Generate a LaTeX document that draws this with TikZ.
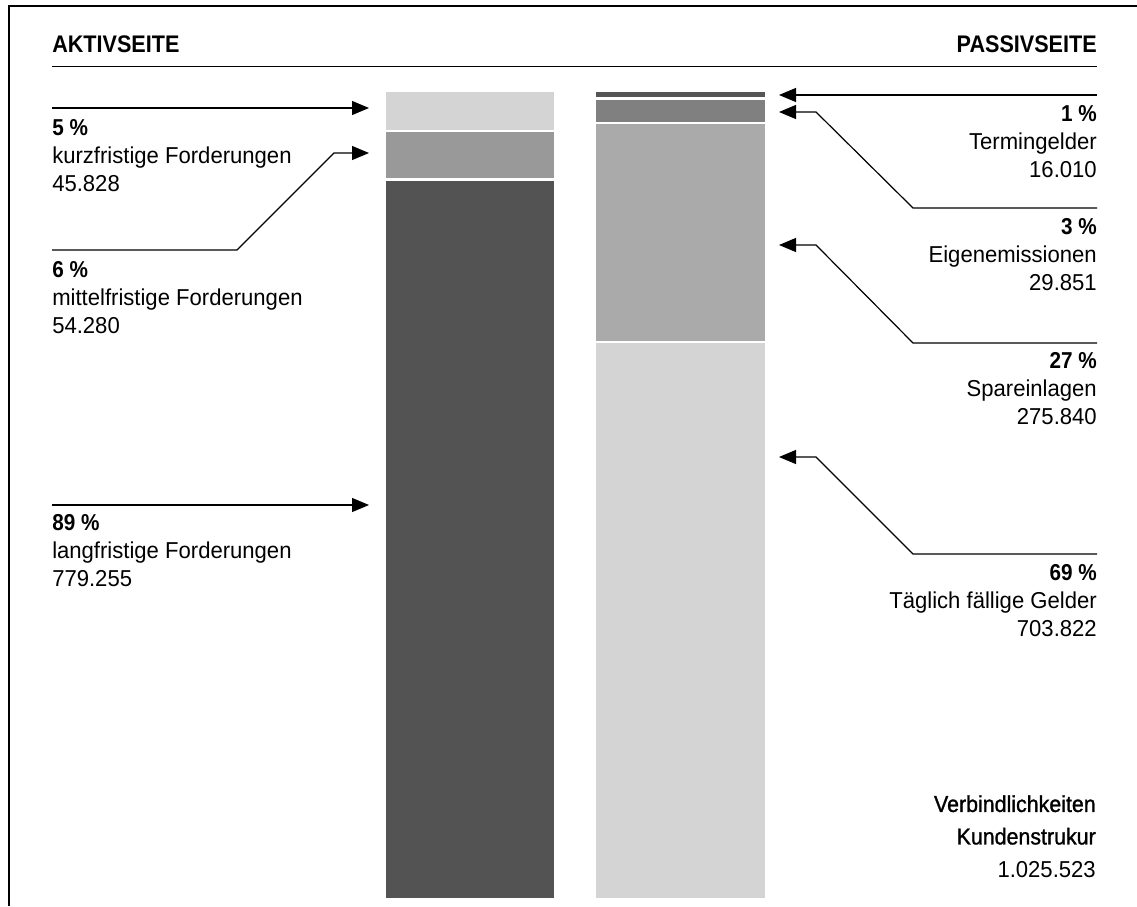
\documentclass[tikz,border=0pt]{standalone}
\usepackage{fontspec}
\setmainfont{Liberation Sans}[FakeStretch=0.96, BoldFeatures={FakeStretch=0.9}]
\newfontfamily\mittelfont{Liberation Sans}[FakeStretch=0.93, FakeBold=1.2]
\usetikzlibrary{arrows.meta}

\definecolor{hell}{HTML}{D4D4D4}
\definecolor{mittel}{HTML}{999999}
\definecolor{dunkel}{HTML}{535353}
\definecolor{grauA}{HTML}{555555}
\definecolor{grauB}{HTML}{808080}
\definecolor{grauC}{HTML}{AAAAAA}

\begin{document}
\begin{tikzpicture}[x=0.75pt, y=-0.75pt,
  titel/.style={font=\fontsize{18pt}{21pt}\selectfont\bfseries, inner sep=0pt},
  wert/.style={font=\fontsize{17.25pt}{21pt}\selectfont, inner sep=0pt},
  summe/.style={font=\fontsize{17.25pt}{24.4pt}\selectfont, inner sep=0pt, align=right},
  pfeil/.style={line width=0.9pt, -{Triangle[length=12.75pt, width=10.5pt]}}
]
\useasboundingbox (0,0) rectangle (1137,906);

\draw[line width=1.9pt] (9,906) -- (9,6) -- (1137,6);

\node[titel, anchor=base west] (aktiv) at (52,53) {AKTIVSEITE};
\node[titel, anchor=base east] (passiv) at (1097,53) {PASSIVSEITE};
\draw[line width=1.1pt] (52,66.5) -- (1097,66.5);

% Aktivseite
\fill[hell]   (386,92)  rectangle (554,130);
\fill[mittel] (386,132) rectangle (554,178);
\fill[dunkel] (386,181) rectangle (554,898);

% Passivseite
\fill[grauA] (596,92)  rectangle (765,97);
\fill[grauB] (596,100) rectangle (765,122);
\fill[grauC] (596,124) rectangle (765,341);
\fill[hell]  (596,343) rectangle (765,898);

\node[wert, anchor=base west, align=left] (kurz) at (52,191) {\textbf{5 \%}\\kurzfristige Forderungen\\45.828};
\node[wert, anchor=base west, align=left] (mittelfr) at (52,333) {\textbf{6 \%}\\mittelfristige Forderungen\\54.280};
\node[wert, anchor=base west, align=left] (lang) at (52,586) {\textbf{89 \%}\\langfristige Forderungen\\779.255};

\node[wert, anchor=base east, align=right] (termin) at (1097,177) {\textbf{1 \%}\\Termingelder\\16.010};
\node[wert, anchor=base east, align=right] (eigen) at (1097,290) {\textbf{3 \%}\\Eigenemissionen\\29.851};
\node[wert, anchor=base east, align=right] (spar) at (1097,424) {\textbf{27 \%}\\Spareinlagen\\275.840};
\node[wert, anchor=base east, align=right] (taeglich) at (1097,636) {\textbf{69 \%}\\Täglich fällige Gelder\\703.822};

\node[summe, anchor=base east] (gesamt) at (1096,877) {{\mittelfont Verbindlichkeiten}\\{\mittelfont Kundenstrukur}\\1.025.523};

\coordinate (kurzA) at (52,108);
\coordinate (kurzB) at (369,108);
\coordinate (mittelA) at (52,250);
\coordinate (mittelB) at (369,153);
\coordinate (langA) at (52,505);
\coordinate (langB) at (369,505);

\coordinate (terminA) at (1097,95);
\coordinate (terminB) at (779,95);
\coordinate (eigenA) at (1097,208);
\coordinate (eigenB) at (779,112);
\coordinate (sparA) at (1097,343);
\coordinate (sparB) at (779,245);
\coordinate (taeglichA) at (1097,554);
\coordinate (taeglichB) at (779,457);

\draw[pfeil] (kurzA) -- (kurzB);
\draw[pfeil] (mittelA) -- ++(185,0) -- ++(97,-97) -- (mittelB);
\draw[pfeil] (langA) -- (langB);

\draw[pfeil] (terminA) -- (terminB);
\draw[pfeil] (eigenA) -- ++(-184,0) -- ++(-97,-96) -- (eigenB);
\draw[pfeil] (sparA) -- ++(-184,0) -- ++(-97,-98) -- (sparB);
\draw[pfeil] (taeglichA) -- ++(-184,0) -- ++(-97,-97) -- (taeglichB);

\end{tikzpicture}
\end{document}
